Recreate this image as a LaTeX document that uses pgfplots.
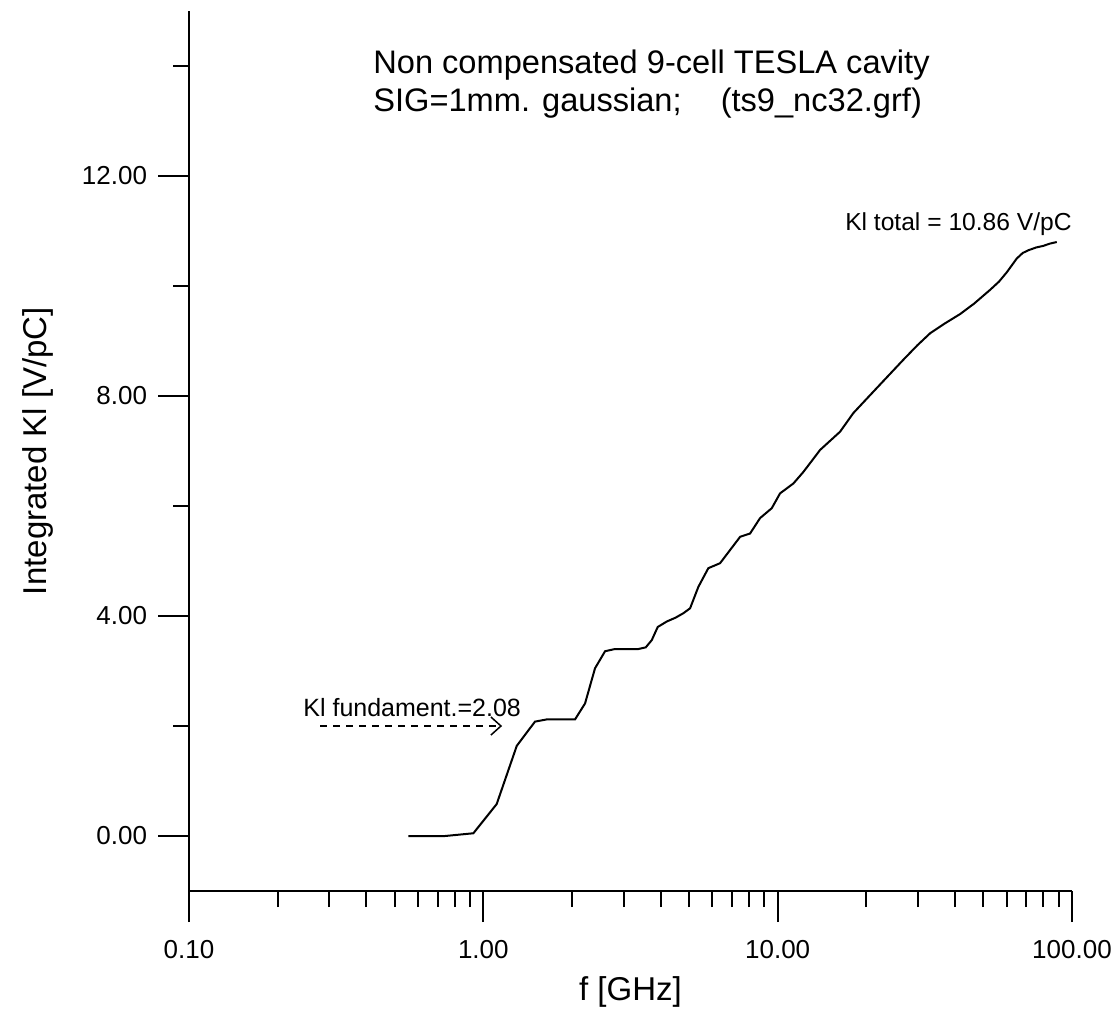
\documentclass[border=0pt]{standalone}
\usepackage{pgfplots}
\pgfplotsset{compat=1.18}
\usepackage{fontspec}
\setmainfont{Liberation Sans}
\usetikzlibrary{arrows.meta}
\begin{document}
\begin{tikzpicture}
\begin{axis}[
  name=ax,
  scale only axis,
  width=441.5pt, height=440pt,
  xmode=log,
  xmin=0.1, xmax=100,
  ymin=-1, ymax=15,
  axis x line=bottom, axis y line=left,
  axis line style={-, line width=1pt, black},
  every tick/.style={black, line width=1pt},
  tick align=outside,
  major tick length=15.5pt,
  minor tick length=8pt,
  xtick={0.1,1,10,100},
  xticklabels={0.10,1.00,10.00,100.00},
  ytick={0,4,8,12},
  yticklabels={0.00,4.00,8.00,12.00},
  minor ytick={2,6,10,14},
  tick label style={font=\fontsize{13}{15.5}\selectfont},
  xticklabel style={yshift=-5.5pt},
  yticklabel style={xshift=-2pt},
  xlabel={f [GHz]},
  ylabel={Integrated Kl [V/pC]},
  label style={font=\fontsize{16.5}{19}\selectfont},
  xlabel style={at={(axis description cs:0.5,-0.115)}, anchor=center},
  ylabel style={at={(axis description cs:-0.171,0.5)}, anchor=center},
  clip=false,
]
\addplot[black, line width=1pt] coordinates {
(0.556,0.0) (0.741,0.0) (0.925,0.05) (1.110,0.58) (1.299,1.64) (1.498,2.08)
(1.642,2.12) (2.049,2.12) (2.216,2.41) (2.396,3.05) (2.592,3.36) (2.802,3.40)
(3.363,3.40) (3.563,3.43) (3.734,3.56) (3.913,3.80) (4.20,3.90) (4.50,3.97)
(4.78,4.05) (5.040,4.14) (5.377,4.53) (5.814,4.87) (6.373,4.96) (7.455,5.44)
(8.058,5.50) (8.714,5.78) (9.548,5.96) (10.19,6.23) (11.31,6.41) (12.23,6.62)
(13.94,7.02) (16.29,7.35) (18.08,7.69) (21.15,8.08) (26.74,8.66) (29.8,8.92) (32.95,9.14)
(37.0,9.32) (41.67,9.49) (46.5,9.68) (52.69,9.93) (56.5,10.08) (60.05,10.25) (64.92,10.50)
(68.0,10.60) (71.11,10.65) (75.5,10.70) (79.96,10.73) (84.0,10.77) (88.79,10.80)
};
\node[anchor=base west, inner sep=0pt, font=\fontsize{16.3}{19}\selectfont] at (axis cs:0.4217,13.864) {Non compensated 9-cell TESLA cavity};
\node[anchor=base west, inner sep=0pt, font=\fontsize{16.3}{19}\selectfont] at (axis cs:0.4217,13.173) {SIG=1mm. gaussian;\hspace{1.2em}(ts9\_nc32.grf)};
\node[anchor=base east, inner sep=0pt, font=\fontsize{12.3}{14}\selectfont] at (axis cs:100,11.018) {Kl total = 10.86 V/pC};
\node[anchor=base west, inner sep=0pt, font=\fontsize{12.5}{14}\selectfont] at (axis cs:0.244,2.182) {Kl fundament.=2.08};
\draw[black, line width=0.75pt, dash pattern=on 3.5pt off 3pt, -{Straight Barb[length=5pt,width=9pt]}] (axis cs:0.279,2.0) -- (axis cs:1.158,2.0);
\end{axis}
\pgfresetboundingbox
\path[use as bounding box] ([xshift=-94.5pt,yshift=-58.5pt]ax.south west) rectangle ([xshift=24pt,yshift=5.5pt]ax.north east);
\end{tikzpicture}
\end{document}
